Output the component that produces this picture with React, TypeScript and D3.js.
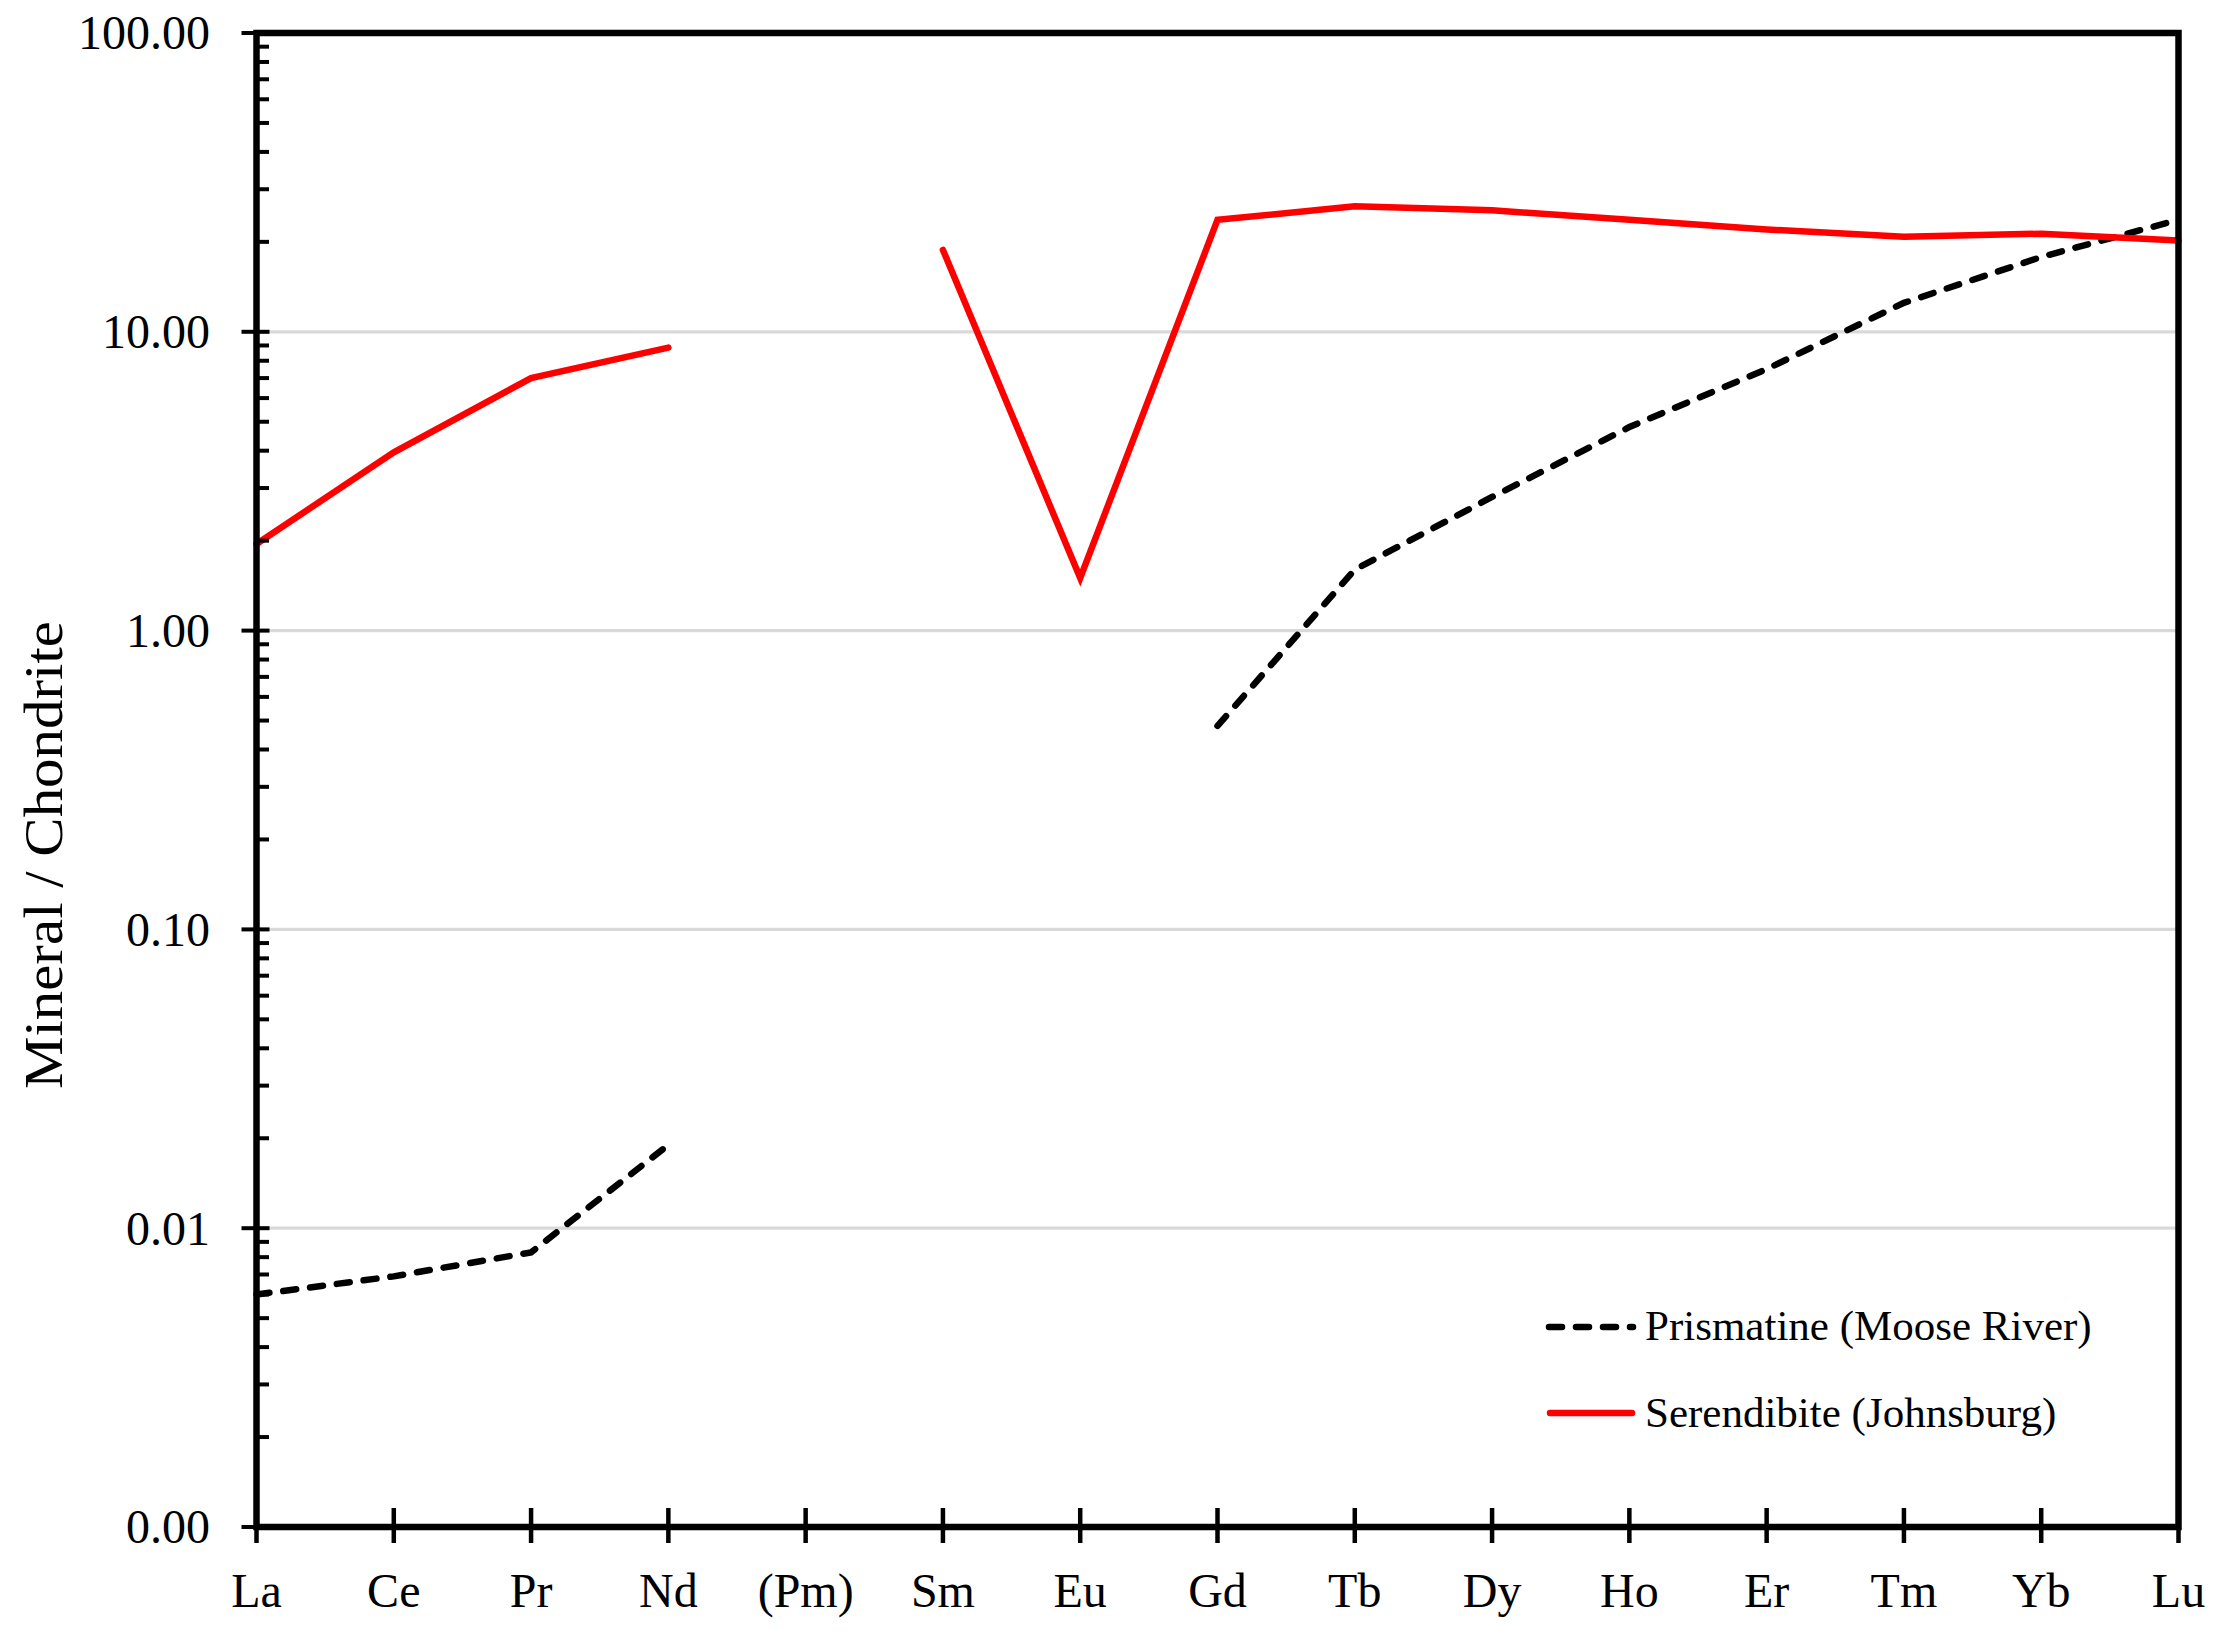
import React from "react";
import * as d3 from "d3";

const elements = ["La", "Ce", "Pr", "Nd", "(Pm)", "Sm", "Eu", "Gd", "Tb", "Dy", "Ho", "Er", "Tm", "Yb", "Lu"];
const prismatine: (number | null)[] = [0.006, 0.0069, 0.0083, 0.019, null, null, null, 0.48, 1.6, 2.8, 4.8, 7.5, 12.5, 17.8, 23.7];
const serendibite: (number | null)[] = [1.95, 3.95, 7.0, 8.85, null, 18.8, 1.5, 23.7, 26.3, 25.5, 23.7, 22.0, 20.8, 21.3, 20.2];
const yMajorTicks = [0.001, 0.01, 0.1, 1, 10, 100];
const legendLabels = ["Prismatine (Moose River)", "Serendibite (Johnsburg)"];
const yTitle = "Mineral / Chondrite";

const W = 2234;
const H = 1643;
const L = 256.5;
const R = 2178.5;
const T = 33;
const B = 1527;
const FONT = "'Liberation Serif', 'Times New Roman', serif";

export default function App() {
  const x = d3.scalePoint<string>().domain(elements).range([L, R]);
  const y = d3.scaleLog().domain([0.001, 100]).range([B, T]);

  const line = d3
    .line<number | null>()
    .defined((d) => d != null)
    .x((_, i) => x(elements[i]) as number)
    .y((d) => y(d as number));

  const minorTicks: number[] = [];
  yMajorTicks.slice(0, -1).forEach((d) => {
    for (let k = 2; k <= 9; k++) minorTicks.push(d * k);
  });
  const fmt = d3.format(".2f");

  return (
    <svg
      width={W}
      height={H}
      style={{ position: "absolute", left: 0, top: 0, background: "#fff" }}
    >
      <rect x={0} y={0} width={W} height={H} fill="#fff" />
      {/* gridlines */}
      {yMajorTicks.slice(1, -1).map((t) => (
        <line key={"g" + t} x1={L} x2={R} y1={y(t)} y2={y(t)} stroke="#d9d9d9" strokeWidth={3.3} />
      ))}
      {/* series */}
      <path d={line(prismatine) || ""} fill="none" stroke="#000" strokeWidth={6.5} strokeDasharray="13 14" strokeLinecap="round" />
      <path d={line(serendibite) || ""} fill="none" stroke="#ff0000" strokeWidth={6.5} strokeLinecap="round" />
      {/* box */}
      <rect x={L} y={T} width={R - L} height={B - T} fill="none" stroke="#000" strokeWidth={6.5} />
      {/* y minor ticks */}
      {minorTicks.map((t, i) => (
        <line key={"m" + i} x1={L} x2={L + 12.5} y1={y(t)} y2={y(t)} stroke="#000" strokeWidth={4} />
      ))}
      {/* y major ticks and labels */}
      {yMajorTicks.map((t) => (
        <g key={"y" + t}>
          <line x1={L - 15} x2={L + 13} y1={y(t)} y2={y(t)} stroke="#000" strokeWidth={4} />
          <text x={210} y={y(t)} dy="0.34em" textAnchor="end" fontFamily={FONT} fontSize={48} fill="#000">
            {fmt(t)}
          </text>
        </g>
      ))}
      {/* x ticks and labels */}
      {elements.map((e) => (
        <g key={"x" + e}>
          <line x1={x(e)} x2={x(e)} y1={B - 19} y2={B + 16} stroke="#000" strokeWidth={4.5} />
          <text x={x(e)} y={1607} textAnchor="middle" fontFamily={FONT} fontSize={48} fill="#000">
            {e}
          </text>
        </g>
      ))}
      {/* y title */}
      <text
        transform="translate(62,855) rotate(-90)"
        textAnchor="middle"
        fontFamily={FONT}
        fontSize={55}
        textLength={468}
        lengthAdjust="spacingAndGlyphs"
        fill="#000"
      >
        {yTitle}
      </text>
      {/* legend */}
      <line x1={1549} x2={1633} y1={1327} y2={1327} stroke="#000" strokeWidth={6.5} strokeDasharray="13 14" strokeLinecap="round" />
      <text x={1645} y={1340} fontFamily={FONT} fontSize={43} fill="#000">{legendLabels[0]}</text>
      <line x1={1550} x2={1632} y1={1413} y2={1413} stroke="#ff0000" strokeWidth={6.5} strokeLinecap="round" />
      <text x={1645} y={1427} fontFamily={FONT} fontSize={43} fill="#000">{legendLabels[1]}</text>
    </svg>
  );
}
